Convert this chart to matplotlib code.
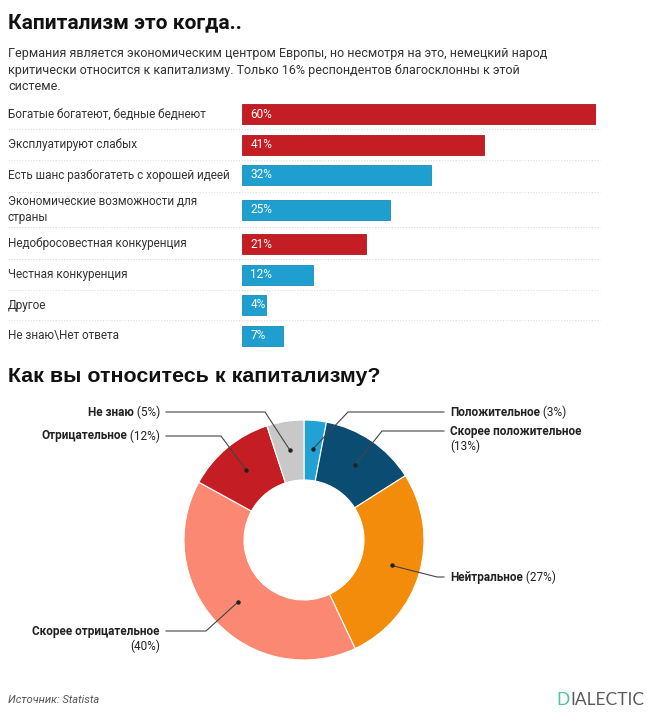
import numpy as np
import matplotlib
matplotlib.use("Agg")
import matplotlib.pyplot as plt

plt.rcParams['font.family'] = ['Roboto', 'DejaVu Sans']

# --- data ---------------------------------------------------------------
title = "Капитализм это когда.."
subtitle_lines = [
    "Германия является экономическим центром Европы, но несмотря на это, немецкий народ",
    "критически относится к капитализму. Только 16% респондентов благосклонны к этой",
    "системе.",
]
bar_labels = [
    "Богатые богатеют, бедные беднеют",
    "Эксплуатируют слабых",
    "Есть шанс разбогатеть с хорошей идеей",
    "Экономические возможности для\nстраны",
    "Недобросовестная конкуренция",
    "Честная конкуренция",
    "Другое",
    "Не знаю\\Нет ответа",
]
bar_values = [60, 41, 32, 25, 21, 12, 4, 7]
bar_negative = [True, True, False, False, True, False, False, False]

pie_title = "Как вы относитесь к капитализму?"
pie_labels = ["Положительное", "Скорее положительное", "Нейтральное",
              "Скорее отрицательное", "Отрицательное", "Не знаю"]
pie_values = [3, 13, 27, 40, 12, 5]
pie_colors = ["#22a2d4", "#0b4d72", "#f28c0a", "#fa8872", "#c41e24", "#c8c8c8"]

source = "Источник: Statista"

RED = "#c41e24"
BLUE = "#1f9fd0"
TXT = "#333333"

W, H = 650, 720
fig = plt.figure(figsize=(W / 100, H / 100), dpi=100)
fig.patch.set_facecolor("white")

# overlay axes in pixel coordinates (y downwards) for text and guides
ov = fig.add_axes([0, 0, 1, 1], zorder=5)
ov.set_xlim(0, W)
ov.set_ylim(H, 0)
ov.axis("off")
ov.patch.set_alpha(0)

# --- header -------------------------------------------------------------
ov.text(8, 28, title, fontsize=15, fontweight="bold", color="#111111",
        va="baseline", ha="left")
for i, line in enumerate(subtitle_lines):
    ov.text(8, 57.5 + 16.5 * i, line, fontsize=9, color=TXT, va="baseline")

# --- bar chart ----------------------------------------------------------
# row heights depend on how many lines the label has
heights = [30.5 + 8 * s.count("\n") for s in bar_labels]
centers = []
y = 114
for i, h in enumerate(heights):
    if i > 0:
        y += (heights[i - 1] + h) / 2
    centers.append(y)
centers = np.array(centers)

top_px, bot_px = 98, 352
left_px, right_px = 242, 596
bx = fig.add_axes([left_px / W, 1 - bot_px / H, (right_px - left_px) / W,
                   (bot_px - top_px) / H], zorder=3)
bx.set_xlim(0, max(bar_values))
bx.set_ylim(bot_px, top_px)
bx.axis("off")
cols = [RED if n else BLUE for n in bar_negative]
edges = ["#a8181d" if n else "#1a8ab5" for n in bar_negative]
bx.barh(centers, bar_values, height=20, color=cols, edgecolor=edges,
        linewidth=0.6, align="center")
for c, v in zip(centers, bar_values):
    bx.annotate(f"{v}%", xy=(0, c), xytext=(6, 0), textcoords="offset points",
                color="white", fontsize=8.5, va="center", ha="left")

for c, s in zip(centers, bar_labels):
    ov.text(8, c, s, fontsize=8.5, color=TXT, va="center", ha="left",
            linespacing=1.25)
# dotted separators between rows
bounds = (centers[:-1] + centers[1:]) / 2
for b in bounds:
    ov.plot([8, 600], [b, b], color="#dddddd", lw=0.8, ls=(0, (1, 1.5)),
            zorder=1)

# --- donut --------------------------------------------------------------
ov.text(8, 382, pie_title, fontsize=15.4, fontweight="bold", color="#111111",
        va="baseline", family=["Liberation Sans", "DejaVu Sans"])

cx, cy, R = 304, 540, 120
px = fig.add_axes([(cx - R) / W, 1 - (cy + R) / H, 2 * R / W, 2 * R / H],
                  zorder=3)
px.pie(pie_values, colors=pie_colors, startangle=90, counterclock=False,
       wedgeprops=dict(width=0.5, edgecolor="white", linewidth=0.8))
px.set_xlim(-1, 1)
px.set_ylim(-1, 1)
px.set_aspect("equal")

# leader lines: elbow point and end of horizontal run (pixels)
elbows = [(348, 412), (382, 431), (437, 577), (206, 631), (221, 436), (265, 412)]
line_end_right, line_end_left = 444, 166
label_right, label_left = 450, 160

cum = np.cumsum([0] + pie_values[:-1])
for i, (lab, v) in enumerate(zip(pie_labels, pie_values)):
    mid = np.deg2rad(90 - (cum[i] + v / 2) / sum(pie_values) * 360)
    r = 0.76
    dxy = px.transData.transform((r * np.cos(mid), r * np.sin(mid)))
    dot = (dxy[0], H - dxy[1])
    ex, ey = elbows[i]
    right = ex > cx
    end = line_end_right if right else line_end_left
    ov.plot([dot[0], ex, end], [dot[1], ey, ey], color="#444444", lw=0.8,
            zorder=6)
    ov.plot(dot[0], dot[1], "o", ms=2.2, color="#222222", zorder=7)
    pct = f"({v}%)"
    two_line = len(lab) > 15
    if right:
        t = ov.text(label_right, ey, lab, fontsize=8.5, fontweight="bold",
                    color="#222222", va="center", ha="left")
        if two_line:
            ov.text(label_right, ey + 15, pct, fontsize=8.5, color="#222222",
                    va="center", ha="left")
        else:
            ov.annotate(" " + pct, xy=(1, 0.5), xycoords=t, fontsize=8.5,
                        color="#222222", va="center", ha="left")
    else:
        if two_line:
            ov.text(label_left, ey, lab, fontsize=8.5, fontweight="bold",
                    color="#222222", va="center", ha="right")
            ov.text(label_left, ey + 15, pct, fontsize=8.5, color="#222222",
                    va="center", ha="right")
        else:
            t = ov.text(label_left, ey, " " + pct, fontsize=8.5,
                        color="#222222", va="center", ha="right")
            ov.annotate(lab, xy=(0, 0.5), xycoords=t, fontsize=8.5,
                        fontweight="bold", color="#222222", va="center",
                        ha="right")

# --- footer -------------------------------------------------------------
ov.text(8, 700, source, fontsize=8, style="italic", color="#555555",
        va="center")
t = ov.text(644, 700, "IALECTIC", fontsize=12.5, color="#5a5a5a",
            va="center", ha="right", family=["Lato", "DejaVu Sans"])
ov.annotate("D", xy=(0, 0.5), xycoords=t, fontsize=12.5, color="#4fc49e",
            va="center", ha="right", family=["Lato", "DejaVu Sans"])

fig.savefig("out.png", dpi=100, facecolor="white")
